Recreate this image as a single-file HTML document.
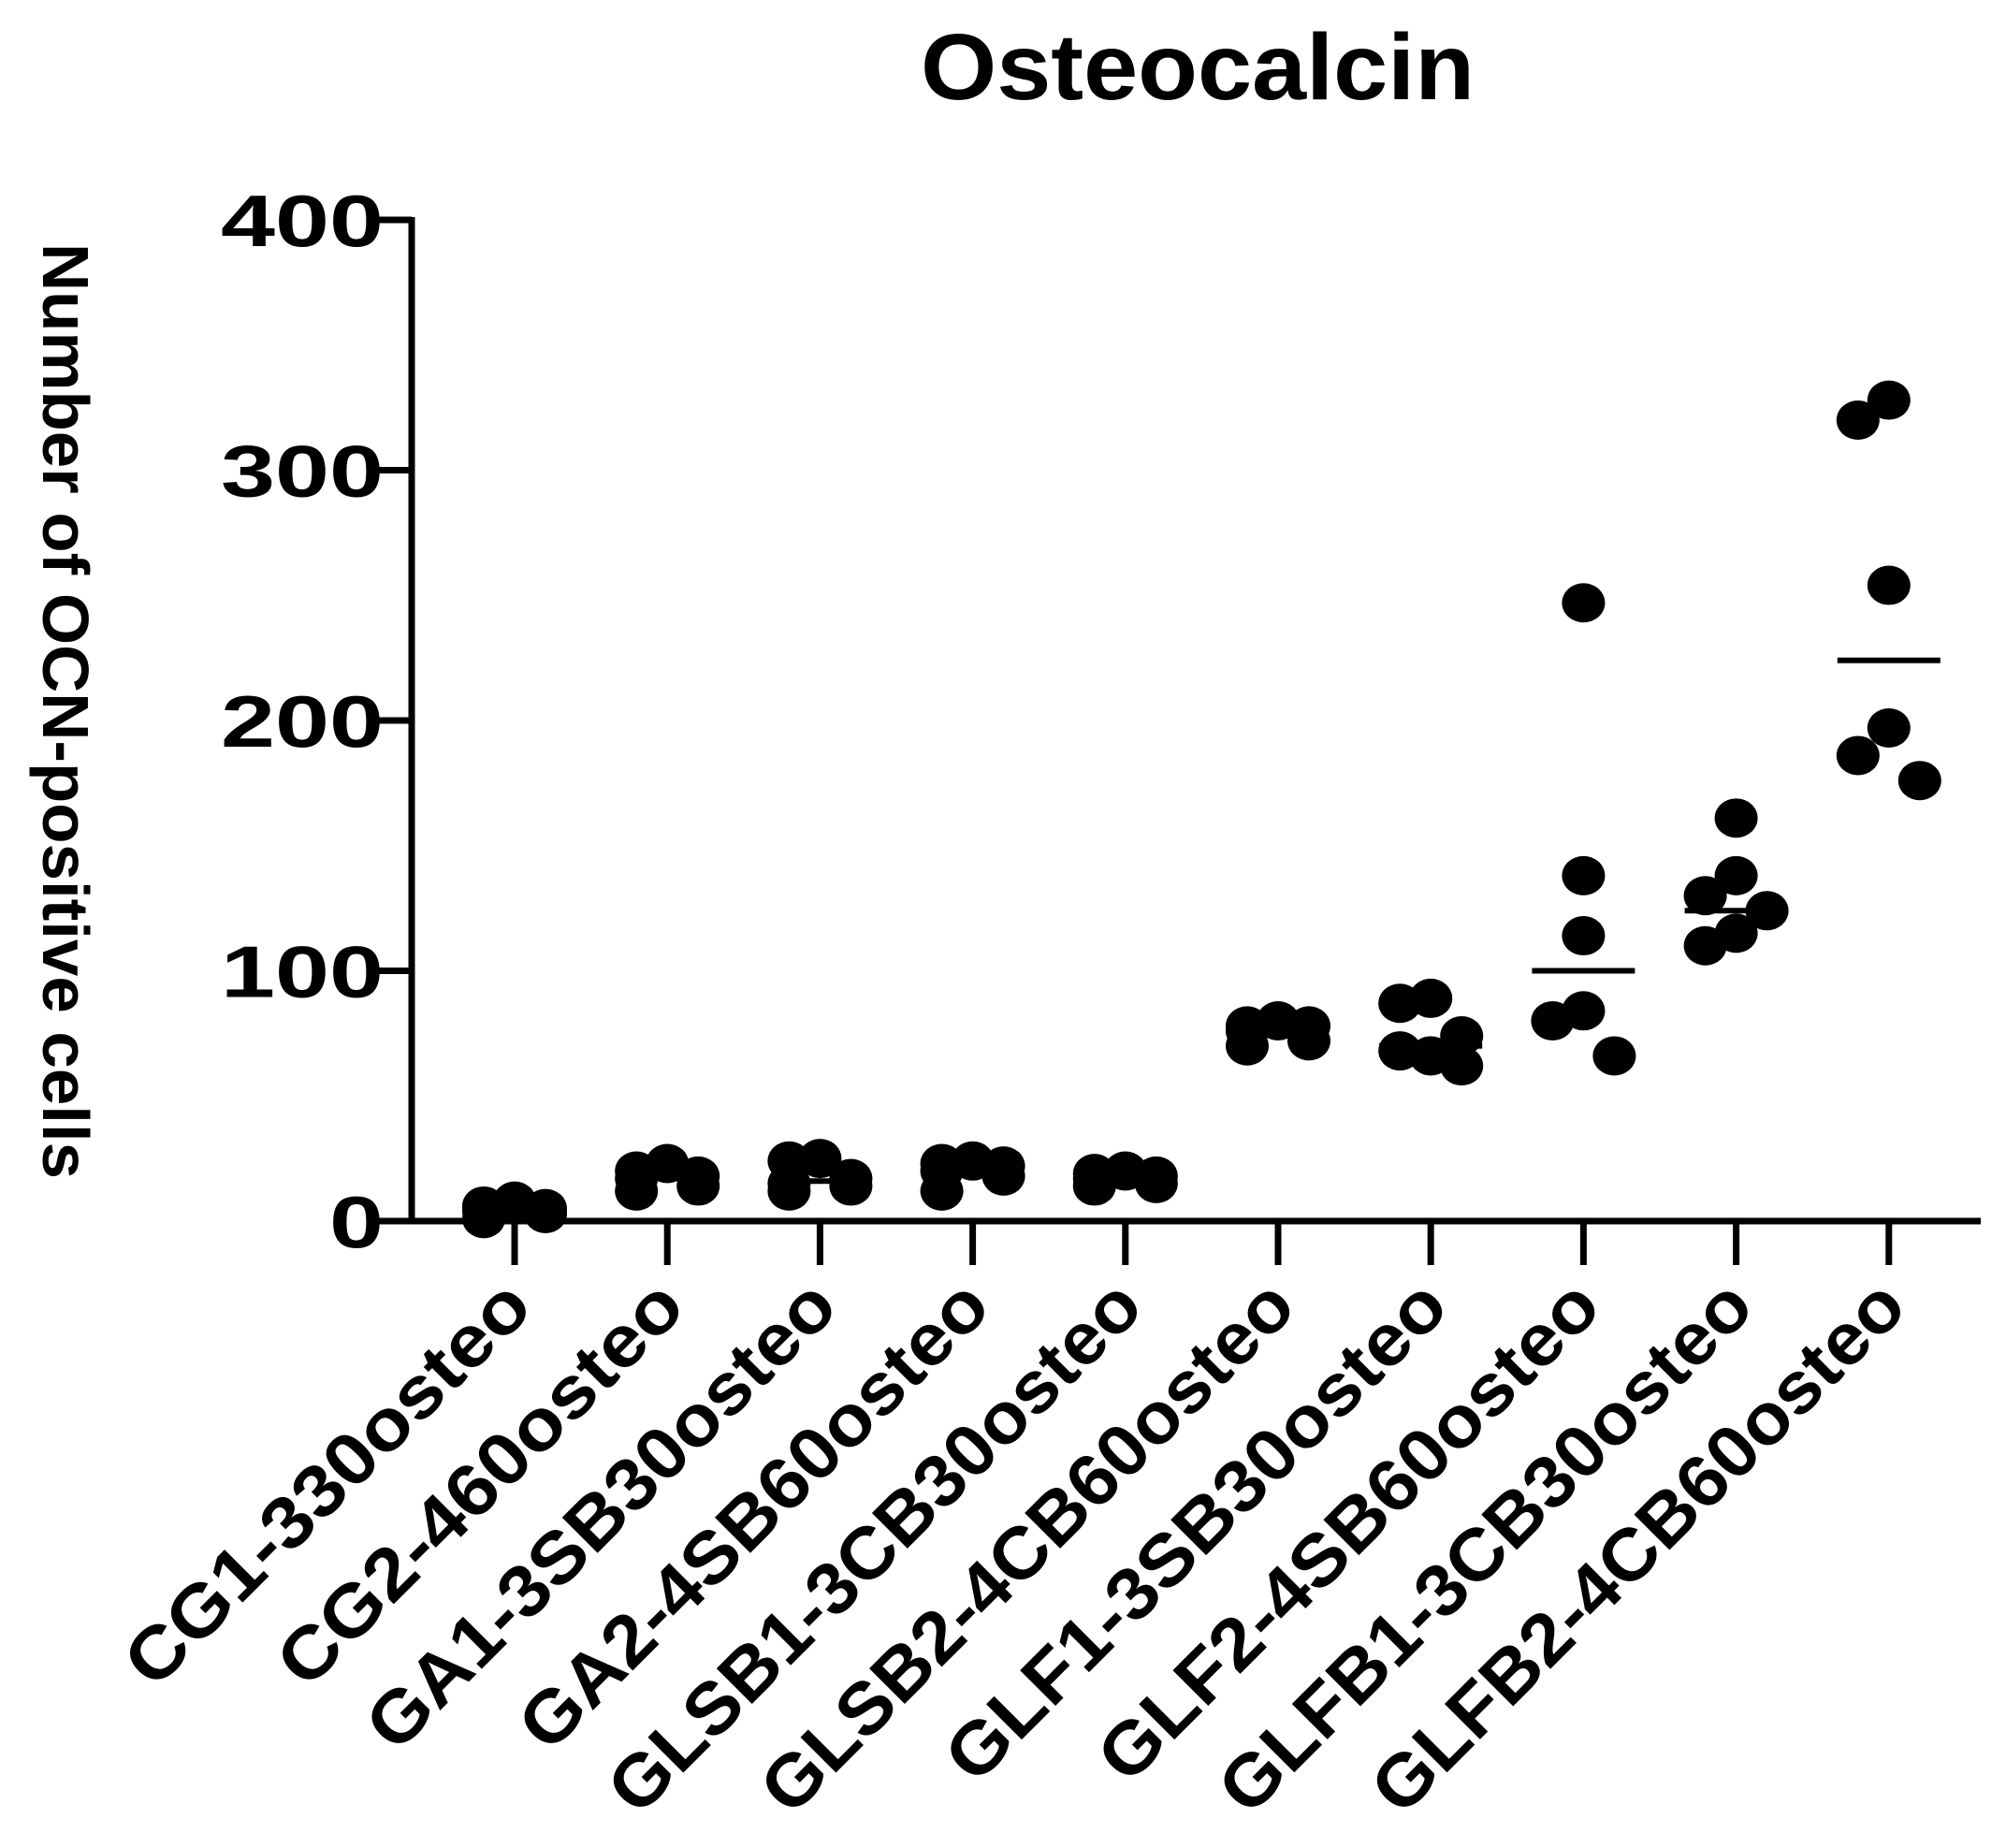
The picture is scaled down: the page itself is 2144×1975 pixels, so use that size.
<!DOCTYPE html>
<html><head><meta charset="utf-8"><style>
html,body{margin:0;padding:0;background:#fff;}
svg{display:block;font-family:"Liberation Sans",Arial,sans-serif;font-weight:bold;}
</style></head><body>
<svg id="chart" width="2144" height="1975" viewBox="0 0 2144 1975">
<text x="1280" y="106" font-size="100" text-anchor="middle" textLength="592" lengthAdjust="spacingAndGlyphs">Osteocalcin</text>
<text transform="translate(46,760) rotate(90)" font-size="70" text-anchor="middle" textLength="1000" lengthAdjust="spacingAndGlyphs">Number of OCN-positive cells</text>
<g id="axes"></g>
<g id="marks"></g>
</svg>
<script>
const categories = ["CG1-330osteo","CG2-460osteo","GA1-3SB30osteo","GA2-4SB60osteo","GLSB1-3CB30osteo","GLSB2-4CB60osteo","GLF1-3SB30osteo","GLF2-4SB60osteo","GLFB1-3CB30osteo","GLFB2-4CB60osteo"];
const groupValues = [
  [5,3,1,8,6,4],
  [20,17,14,23,12,18],
  [25,24,17,14,12,15],
  [23,22,20,18,12,24],
  [19,17,15,20,14,18],
  [80,78,72,76,70,78],
  [87,66,62,89,74,68],
  [84,138,247,80,114,66],
  [124,161,138,130,115,110],
  [320,254,176,328,197,186]
];
const groupLines = [4,17,16,20,17,77,70,100,124,224];
const yTicks = [0,100,200,300,400];

const NS="http://www.w3.org/2000/svg";
const x0=440, xEnd=2117, yBase=1305, yTop=235, firstX=550, step=163.2;
function yScale(v){return yBase-(v/400)*(yBase-yTop);}
function xScale(i){return firstX+i*step;}
function mk(tag,attrs,parent){const e=document.createElementNS(NS,tag);for(const k in attrs)e.setAttribute(k,attrs[k]);parent.appendChild(e);return e;}
const axes=document.getElementById('axes'), marks=document.getElementById('marks');

let e=mk('line',{x1:x0,y1:yTop-3,x2:x0,y2:yBase+3,stroke:'#000','stroke-width':7},axes);


e=mk('line',{x1:x0-3,y1:yBase,x2:xEnd,y2:yBase,stroke:'#000','stroke-width':7},axes);



yTicks.forEach(v=>{
  const y=yScale(v);
  let t=mk('line',{x1:x0-42,y1:y,x2:x0,y2:y,stroke:'#000','stroke-width':7},axes);
  
  
  const s=String(v);
  let l=mk('text',{x:x0-30,y:y+28,'font-size':78,'text-anchor':'end',textLength:58*s.length,lengthAdjust:'spacingAndGlyphs'},axes);
  l.textContent=s;
  
  
});

const slots=[0,-33,33];
categories.forEach((c,i)=>{
  const x=xScale(i);
  let t=mk('line',{x1:x,y1:yBase,x2:x,y2:yBase+47,stroke:'#000','stroke-width':7},axes);
  
  
  let l=mk('text',{transform:`translate(${x+22},${yBase+95}) rotate(-45)`,'font-size':78,'text-anchor':'end',textLength:c.length*48,lengthAdjust:'spacingAndGlyphs'},axes);
  l.textContent=c;
  
  
  const placed=[[],[],[]];
  const sorted=groupValues[i].slice().sort((a,b)=>b-a);
  sorted.forEach(v=>{
    const y=yScale(v);
    let k=0;
    for(let s=0;s<3;s++){ if(placed[s].every(py=>Math.abs(py-y)>60)){k=s;break;} if(s===2){k=placed[1].length<=placed[2].length?1:2;} }
    placed[k].push(y);
    let p=mk('ellipse',{cx:x+slots[k],cy:y,rx:23,ry:21,fill:'#000'},marks);
    
    
  });
  let m=mk('line',{x1:x-55,y1:yScale(groupLines[i]),x2:x+55,y2:yScale(groupLines[i]),stroke:'#000','stroke-width':6},marks);
  
  
});
</script>
</body></html>
